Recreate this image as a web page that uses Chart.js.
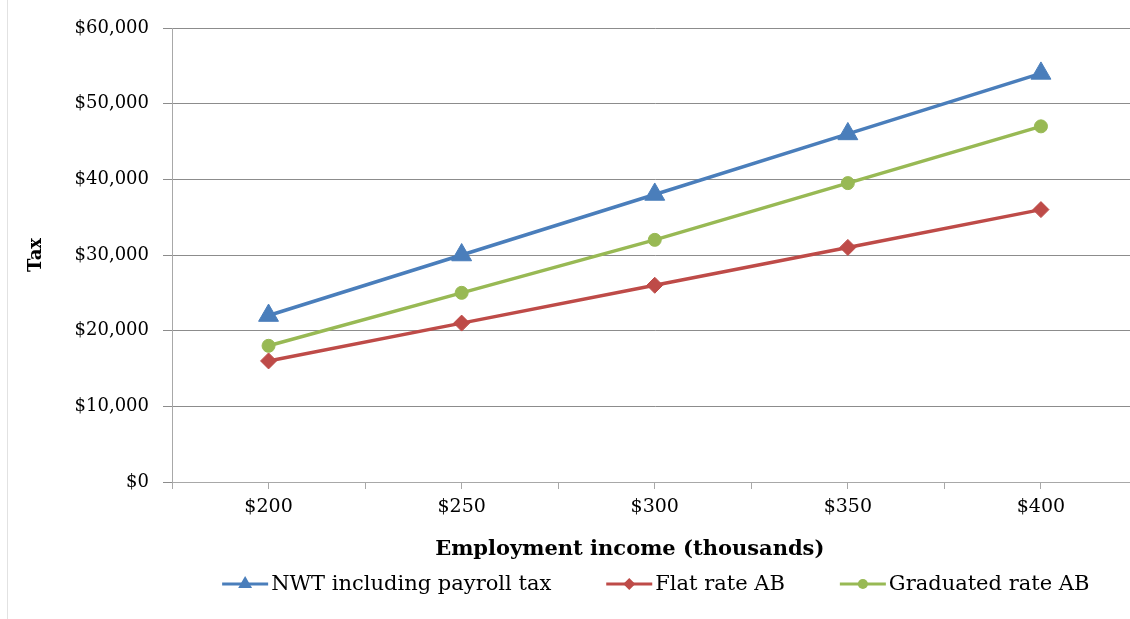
<!DOCTYPE html>
<html>
<head>
<meta charset="utf-8">
<script src="https://cdn.jsdelivr.net/npm/chart.js@4.4.1/dist/chart.umd.min.js"></script>
<style>
  html, body { margin: 0; padding: 0; background: #fff; overflow: hidden; }
  #wrap { position: relative; width: 1130px; height: 619px; overflow: hidden; }
  #inner { position: absolute; left: 0; top: 0; width: 1150px; height: 619px; }
  #edge { position: absolute; left: 7px; top: 0; width: 1px; height: 619px; background: #e2e2e2; }
</style>
</head>
<body>
<div id="wrap">
  <div id="inner"><canvas id="taxchart" width="1150" height="619"></canvas></div>
  <div id="edge"></div>
</div>
<script>
// data
const incomes = [200, 250, 300, 350, 400];          // thousands
const nwtTax  = [22000, 30000, 38000, 46000, 54000];
const flatTax = [16000, 21000, 26000, 31000, 36000];
const gradTax = [18000, 25000, 32000, 39500, 47000];
const seriesNames = ['NWT including payroll tax', 'Flat rate AB', 'Graduated rate AB'];
const yTicks = [0, 10000, 20000, 30000, 40000, 50000, 60000];
const xTitle = 'Employment income (thousands)';
const yTitle = 'Tax';

const FONT = "'DejaVu Serif', serif";

function pts(values) {
  return incomes.map((x, i) => ({ x: x, y: values[i] }));
}

function marker(ctx, style, x, y, r) {
  ctx.beginPath();
  if (style === 'triangle') {
    for (let k = 0; k < 3; k++) {
      const a = k * 2 * Math.PI / 3;
      const px = x + Math.sin(a) * r, py = y - Math.cos(a) * r;
      k ? ctx.lineTo(px, py) : ctx.moveTo(px, py);
    }
    ctx.closePath();
  } else if (style === 'rectRot') {
    ctx.moveTo(x - r, y); ctx.lineTo(x, y - r); ctx.lineTo(x + r, y); ctx.lineTo(x, y + r);
    ctx.closePath();
  } else {
    ctx.arc(x, y, r, 0, Math.PI * 2);
  }
  ctx.fill();
}

// Excel-style legend (line + marker) and x axis title
const bottomText = {
  id: 'bottomText',
  afterDraw(chart) {
    const ctx = chart.ctx;
    const area = chart.chartArea;
    const mid = (area.left + area.right) / 2;
    ctx.save();
    ctx.fillStyle = '#000';
    ctx.textBaseline = 'middle';

    ctx.font = "bold 21px " + FONT;
    ctx.textAlign = 'center';
    ctx.fillText(xTitle, mid - 25, 550);

    ctx.font = "21px " + FONT;
    ctx.textAlign = 'left';
    const lineLen = 46, textGap = 3, itemGap = 55, y = 584;
    const sets = chart.data.datasets;
    const widths = sets.map(d => lineLen + textGap + ctx.measureText(d.label).width);
    const total = widths.reduce((a, b) => a + b, 0) + itemGap * (sets.length - 1);
    let x = mid + 1 - total / 2;
    sets.forEach((d, i) => {
      ctx.strokeStyle = d.borderColor;
      ctx.lineWidth = 3;
      ctx.beginPath();
      ctx.moveTo(x, y);
      ctx.lineTo(x + lineLen, y);
      ctx.stroke();
      ctx.fillStyle = d.borderColor;
      marker(ctx, d.pointStyle, x + lineLen / 2, y, d.legendRadius);
      ctx.fillStyle = '#000';
      ctx.fillText(d.label, x + lineLen + textGap, y + 1);
      x += widths[i] + itemGap;
    });
    ctx.restore();
  }
};

const ctx = document.getElementById('taxchart').getContext('2d');
const taxchart = new Chart(ctx, {
  type: 'line',
  data: {
    datasets: [
      {
        label: seriesNames[0], data: pts(nwtTax),
        borderColor: '#4A7EBB', backgroundColor: '#4A7EBB',
        pointStyle: 'triangle', pointRadius: 11.5, legendRadius: 8
      },
      {
        label: seriesNames[1], data: pts(flatTax),
        borderColor: '#BE4B48', backgroundColor: '#BE4B48',
        pointStyle: 'rectRot', pointRadius: 8, legendRadius: 6
      },
      {
        label: seriesNames[2], data: pts(gradTax),
        borderColor: '#98B954', backgroundColor: '#98B954',
        pointStyle: 'circle', pointRadius: 6.5, legendRadius: 5
      }
    ].map(d => Object.assign({
      borderWidth: 3.5, pointBorderWidth: 1, tension: 0, fill: false
    }, d))
  },
  options: {
    responsive: false,
    animation: false,
    // canvas is wider than the page: the plot runs past the right edge like the original
    layout: { padding: { left: 0, top: 28, right: 2, bottom: 0 } },
    plugins: {
      legend: { display: false },
      tooltip: { enabled: false }
    },
    scales: {
      x: {
        type: 'linear',
        min: 175,
        max: 425,
        afterFit(scale) { scale.height = 137; },
        afterBuildTicks(scale) {
          const t = [];
          for (let v = 175; v <= 425; v += 25) t.push({ value: v });
          scale.ticks = t;
        },
        ticks: {
          autoSkip: false,
          maxRotation: 0,
          padding: 7,
          color: '#000',
          font: { family: FONT, size: 19 },
          callback: v => incomes.includes(v) ? '$' + v : ''
        },
        grid: { drawOnChartArea: false, tickLength: 7, color: '#a8a8a8' },
        border: { color: '#a8a8a8' }
      },
      y: {
        min: 0,
        max: 60000,
        afterFit(scale) { scale.width = 172; },
        afterBuildTicks(scale) { scale.ticks = yTicks.map(v => ({ value: v })); },
        ticks: {
          padding: 14,
          color: '#000',
          font: { family: FONT, size: 18 },
          callback: v => '$' + v.toLocaleString('en-US')
        },
        grid: { color: '#8c8c8c', tickLength: 9 },
        border: { color: '#a8a8a8' },
        title: {
          display: true,
          text: yTitle,
          color: '#000',
          font: { family: FONT, size: 18, weight: 'bold' },
          padding: { top: 26, bottom: 0 }
        }
      }
    }
  },
  plugins: [bottomText]
});
</script>
</body>
</html>
